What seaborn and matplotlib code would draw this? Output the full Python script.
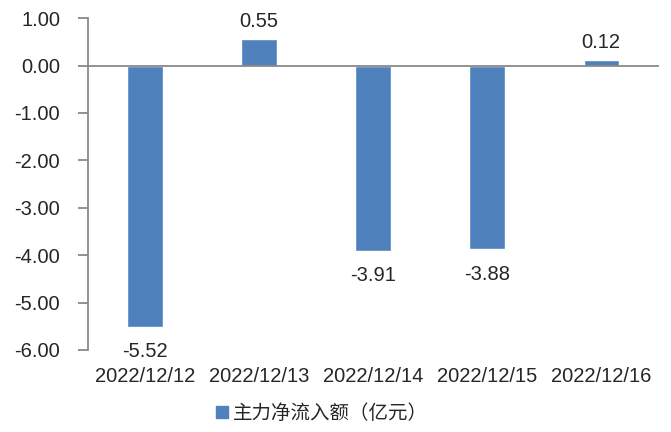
import matplotlib
matplotlib.use("Agg")
import matplotlib.pyplot as plt
import matplotlib.transforms as mtransforms
from matplotlib.lines import Line2D
import seaborn as sns
import pandas as pd

dates = ["2022/12/12", "2022/12/13", "2022/12/14", "2022/12/15", "2022/12/16"]
net_inflow = [-5.52, 0.55, -3.91, -3.88, 0.12]
series_name = "主力净流入额（亿元）"
y_ticks = [1, 0, -1, -2, -3, -4, -5, -6]

sns.set_style("white")
plt.rcParams["font.family"] = ["Liberation Sans", "Noto Sans CJK SC", "DejaVu Sans"]

bar_color = "#4F81BD"
axis_gray = "#898989"

df = pd.DataFrame({"date": dates, "value": net_inflow})

fig = plt.figure(figsize=(6.71, 4.32), dpi=100)
ax = fig.add_axes([0.131, 0.190, 0.850, 0.768])

sns.barplot(data=df, x="date", y="value", color=bar_color, width=0.31,
            saturation=1, ax=ax)

ax.set_ylim(-6, 1)
ax.set_xlim(-0.5, len(dates) - 0.5)
ax.set_yticks(y_ticks)
ax.set_yticklabels([f"{v:.2f}" for v in y_ticks], fontsize=14.5)
ax.set_xlabel("")
ax.set_ylabel("")

# category axis drawn on the zero line, ticks at category boundaries
ax.spines["bottom"].set_position(("data", 0))
ax.set_xticks([i - 0.5 for i in range(len(dates) + 1)])
ax.set_xticklabels([])
ax.tick_params(axis="x", direction="out", length=6, width=1.3, color=axis_gray)
ax.tick_params(axis="y", direction="out", length=7, width=1.3, color=axis_gray,
               pad=13, left=True)
for side in ("top", "right"):
    ax.spines[side].set_visible(False)
for side in ("left", "bottom"):
    ax.spines[side].set_color(axis_gray)
    ax.spines[side].set_linewidth(1.3)

# date labels along the bottom of the plot area
trans = mtransforms.blended_transform_factory(ax.transData, ax.transAxes)
for i, d in enumerate(dates):
    ax.text(i, -0.05, d, transform=trans, ha="center", va="top", fontsize=14.5)

# value labels
for i, v in enumerate(net_inflow):
    if v >= 0:
        ax.annotate(f"{v:.2f}", (i, v), xytext=(0, 6), textcoords="offset points",
                    ha="center", va="bottom", fontsize=14.5)
    else:
        ax.annotate(f"{v:.2f}", (i, v), xytext=(0, -11), textcoords="offset points",
                    ha="center", va="top", fontsize=14.5)

handle = Line2D([], [], linestyle="none", marker="s", markersize=8,
                markerfacecolor=bar_color, markeredgecolor=bar_color)
fig.legend([handle], [series_name], loc="center", bbox_to_anchor=(0.477, 0.043),
           frameon=False, handletextpad=0.05, handlelength=1.0,
           prop={"family": ["Noto Sans CJK SC"], "size": 14})

fig.savefig("out.png", dpi=100)
